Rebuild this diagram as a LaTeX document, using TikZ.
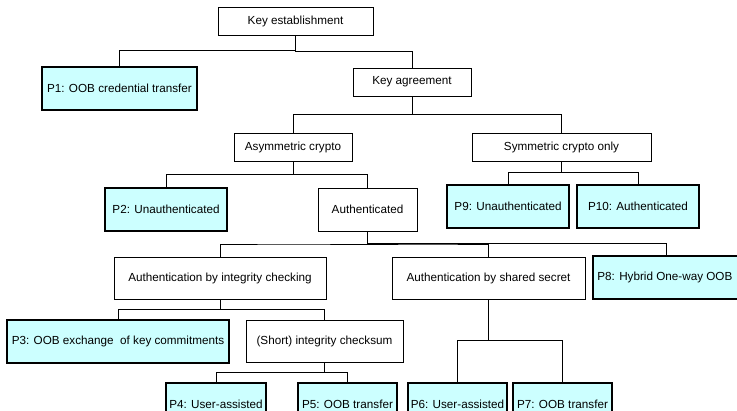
\documentclass[tikz,border=0pt]{standalone}
\usepackage{fontspec}
\setmainfont{Liberation Sans}
\usetikzlibrary{calc}
\definecolor{pfill}{RGB}{204,255,255}

\begin{document}
\begin{tikzpicture}[x=1pt, y=-1pt, line width=0.8pt, font=\fontsize{11.7}{14}\selectfont]
      \tikzstyle{box}=[draw=black, fill=white, text=black, inner sep=0pt]
      \tikzstyle{pbox}=[box, fill=pfill, line width=1.8pt]
      \tikzstyle{elbow}=[to path={(\tikztostart) |- ($(\tikztostart)!0.5!(\tikztotarget)$) -| (\tikztotarget)}]
      \path[use as bounding box, clip] (0,0) rectangle (737,411);
      \node[box, minimum width=155pt, minimum height=28pt] (KE) at (295.5,21) {Key establishment};
      \node[pbox, minimum width=155pt, minimum height=43pt] (P1) at (119.5,88.5) {P1: OOB credential transfer};
      \node[box, minimum width=118pt, minimum height=28pt] (KA) at (412,82) {Key agreement};
      \node[box, minimum width=118pt, minimum height=28pt] (AC) at (293,147) {Asymmetric crypto};
      \node[box, minimum width=179pt, minimum height=28pt] (SC) at (561.5,147) {Symmetric crypto only};
      \node[pbox, minimum width=122pt, minimum height=43pt] (P2) at (166,209.5) {P2: Unauthenticated};
      \node[box, minimum width=99pt, minimum height=43pt] (AU) at (367.5,209.5) {Authenticated};
      \node[pbox, minimum width=122pt, minimum height=43pt] (P9) at (508,206.5) {P9: Unauthenticated};
      \node[pbox, minimum width=122pt, minimum height=43pt] (P10) at (638,206.5) {P10: Authenticated};
      \node[box, minimum width=212pt, minimum height=42pt] (IC) at (220,278) {Authentication by integrity checking};
      \node[box, minimum width=193pt, minimum height=42pt] (SS) at (488.5,278) {Authentication by shared secret};
      \node[pbox, minimum width=147pt, minimum height=43pt] (P8) at (666.5,277.5) {P8: Hybrid One-way OOB~~};
      \node[pbox, minimum width=222pt, minimum height=43pt] (P3) at (118,341.5) {P3: OOB exchange~ of key commitments};
      \node[box, minimum width=157pt, minimum height=42pt] (CS) at (324.5,341) {(Short) integrity checksum};
      \node[pbox, minimum width=100pt, minimum height=43pt] (P4) at (216,404.5) {P4: User-assisted};
      \node[pbox, minimum width=99pt, minimum height=43pt] (P5) at (347.5,404.5) {P5: OOB transfer};
      \node[pbox, minimum width=99pt, minimum height=43pt] (P6) at (457.5,404.5) {P6: User-assisted};
      \node[pbox, minimum width=99pt, minimum height=43pt] (P7) at (562.5,404.5) {P7: OOB transfer};
      \path (KE.south) edge[elbow] (P1.north);
      \path (KE.south) edge[elbow] (KA.north);
      \path (KA.south) edge[elbow] (AC.north);
      \path (KA.south) edge[elbow] (SC.north);
      \path (AC.south) edge[elbow] (P2.north);
      \path (AC.south) edge[elbow] (AU.north);
      \path (SC.south) edge[elbow] (P9.north);
      \path (SC.south) edge[elbow] (P10.north);
      \path (AU.south) edge[elbow] (IC.north);
      \path (AU.south) edge[elbow] (SS.north);
      \path (AU.south) edge[elbow] (P8.north);
      \path (IC.south) edge[elbow] (P3.north);
      \path (IC.south) edge[elbow] (CS.north);
      \path (CS.south) edge[elbow] (P4.north);
      \path (CS.south) edge[elbow] (P5.north);
      \path (SS.south) edge[elbow] (P6.north);
      \path (SS.south) edge[elbow] (P7.north);
    \end{tikzpicture}
\end{document}
